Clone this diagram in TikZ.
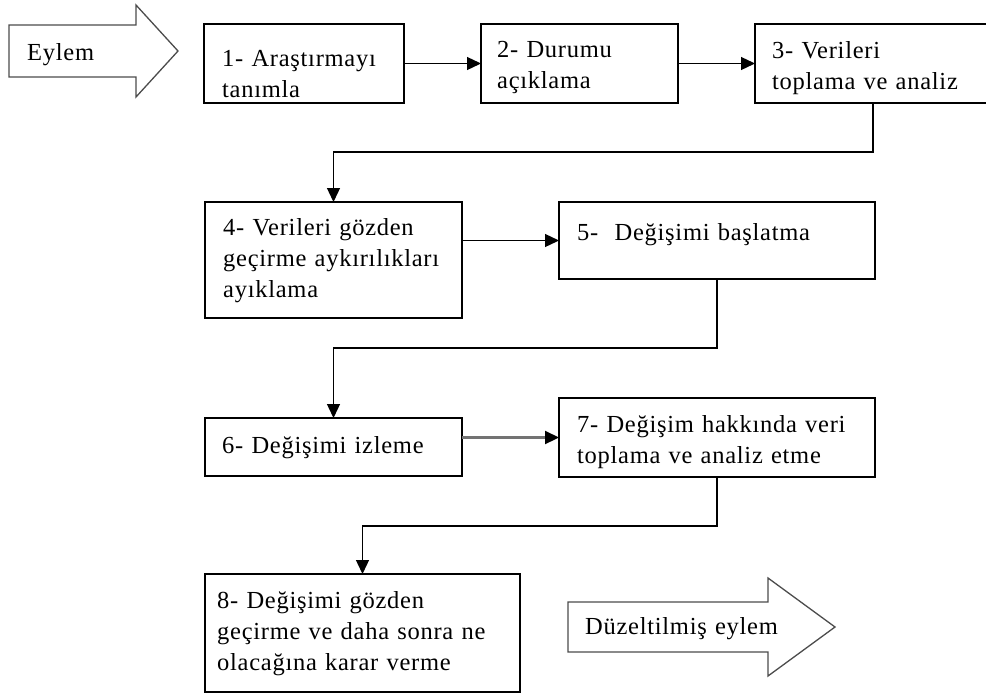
\documentclass[tikz,border=0pt]{standalone}
\usepackage{fontspec}
\setmainfont{Liberation Serif}[LetterSpace=3]
\usetikzlibrary{arrows.meta}
\begin{document}
\begin{tikzpicture}[x=1pt,y=-1pt,
  box/.style={draw=black, line width=1.3pt, rectangle, inner sep=0pt, outer sep=0pt},
  lbl/.style={font=\fontsize{24.5}{31}\selectfont, inner sep=0pt, anchor=base west, align=left, text width=420pt},
  conn/.style={line width=1.3pt, -{Triangle[length=14pt,width=13pt]}},
  bigarrow/.style={draw=black!70, line width=1.3pt, fill=white, line join=miter}]
\clip (0,0) rectangle (986,697);
\fill[white] (0,0) rectangle (986,697);

% big arrows
\draw[bigarrow] (9,25) -- (136,25) -- (136,5) -- (178,51) -- (136,97) -- (136,77) -- (9,77) -- cycle;
\node[lbl] (te) at (27,60) {Eylem};
\draw[bigarrow] (568,602) -- (768,602) -- (768,578) -- (835,627) -- (768,676) -- (768,652) -- (568,652) -- cycle;
\node[lbl] (td) at (585,634) {Düzeltilmiş eylem};

% boxes
\node[box, minimum width=200pt, minimum height=79pt] (b1) at (304,63.5) {};
\node[box, minimum width=197pt, minimum height=79pt] (b2) at (579.5,63.5) {};
\node[box, minimum width=236pt, minimum height=79pt] (b3) at (873,63.5) {};
\node[box, minimum width=257pt, minimum height=116pt] (b4) at (333.5,260) {};
\node[box, minimum width=316pt, minimum height=77pt] (b5) at (717,240.5) {};
\node[box, minimum width=257pt, minimum height=58pt] (b6) at (333.5,447) {};
\node[box, minimum width=316pt, minimum height=79pt] (b7) at (717,437.5) {};
\node[box, minimum width=315pt, minimum height=118pt] (b8) at (362.5,633) {};

% texts
\node[lbl] (t1) at (222,66) {1- Araştırmayı\\tanımla};
\node[lbl] (t2) at (497,57) {2- Durumu\\açıklama};
\node[lbl] (t3) at (772,58) {3- Verileri\\toplama ve analiz};
\node[lbl] (t4) at (223,235) {4- Verileri gözden\\geçirme aykırılıkları\\ayıklama};
\node[lbl] (t5) at (577,240) {5-\ \ Değişimi başlatma};
\node[lbl] (t6) at (222,453) {6- Değişimi izleme};
\node[lbl] (t7) at (577,432) {7- Değişim hakkında veri\\toplama ve analiz etme};
\node[lbl] (t8) at (217,608) {8- Değişimi gözden\\geçirme ve daha sonra ne\\olacağına karar verme};

% connectors
\coordinate (c1) at (873,152);
\coordinate (c2) at (717,348);
\coordinate (c3) at (717,526);
\draw[conn] (b1) -- (b2);
\draw[conn] (b2) -- (b3);
\draw[conn] (b3.south) -- (c1) -| (b4.north);
\draw[conn] (b4.east |- b5.west) -- (b5.west);
\draw[conn] (b5.south) -- (c2) -| (b6.north);
\draw[line width=2.2pt, draw=black!55, -{Triangle[length=14pt,width=13pt,color=black]}] (b6.east |- b7.west) -- (b7.west);
\draw[conn] (b7.south) -- (c3) -| (b8.north);
\end{tikzpicture}
\end{document}
